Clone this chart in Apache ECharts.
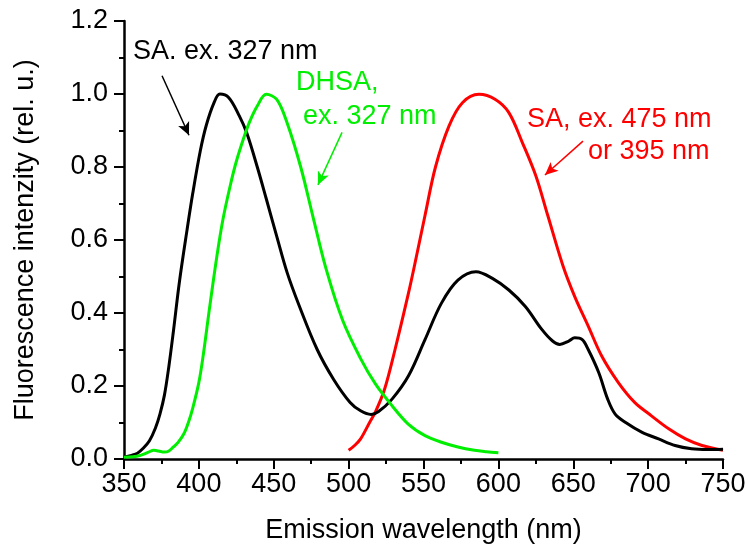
<!DOCTYPE html>
<html>
<head>
<meta charset="utf-8">
<script src="https://cdn.jsdelivr.net/npm/echarts@6/dist/echarts.min.js"></script>
<style>
  html, body { margin: 0; padding: 0; background: #fff; }
  #chart { width: 749px; height: 549px; }
</style>
</head>
<body>
<div id="chart"></div>
<script>
// SA excited at 327 nm
const saUvWavelength = [350, 355, 359, 363, 367, 371, 374, 377, 380, 383, 387, 392, 396, 401, 405, 410, 414, 420, 427, 432, 439, 445, 452, 459, 467, 479, 490, 501, 508, 515, 520, 529, 540, 551, 562, 573, 585, 596, 607, 618, 629, 636, 641, 647, 651, 656, 660, 667, 673, 678, 685, 696, 707, 718, 729, 740, 750];
const saUvIntensity  = [0.005, 0.010, 0.016, 0.030, 0.050, 0.085, 0.123, 0.175, 0.255, 0.35, 0.485, 0.625, 0.73, 0.845, 0.915, 0.975, 1.0, 0.99, 0.94, 0.893, 0.80, 0.713, 0.61, 0.51, 0.42, 0.30, 0.218, 0.155, 0.132, 0.122, 0.13, 0.164, 0.228, 0.327, 0.427, 0.49, 0.513, 0.495, 0.463, 0.418, 0.355, 0.324, 0.314, 0.323, 0.332, 0.327, 0.30, 0.237, 0.164, 0.123, 0.10, 0.073, 0.055, 0.037, 0.028, 0.026, 0.027];

// DHSA excited at 327 nm
const dhsaWavelength = [350, 356, 361, 366, 370, 373, 377, 380, 383, 386, 390, 393, 396, 400, 403, 407, 412, 416, 421, 425, 430, 434, 439, 445, 452, 459, 468, 476, 485, 496, 508, 518, 529, 540, 551, 562, 573, 584, 592, 600];
const dhsaIntensity  = [0.005, 0.006, 0.010, 0.018, 0.024, 0.022, 0.019, 0.022, 0.033, 0.045, 0.069, 0.10, 0.141, 0.21, 0.287, 0.41, 0.555, 0.655, 0.75, 0.815, 0.88, 0.925, 0.967, 0.999, 0.985, 0.92, 0.80, 0.667, 0.52, 0.38, 0.275, 0.205, 0.146, 0.095, 0.064, 0.046, 0.033, 0.024, 0.020, 0.017];

// SA excited at 475 nm or 395 nm
const saVisWavelength = [500, 504, 508, 514, 518, 524, 531, 540, 544, 551, 558, 567, 576, 587, 598, 607, 616, 625, 633, 643, 651, 660, 669, 680, 691, 702, 714, 725, 736, 750];
const saVisIntensity  = [0.024, 0.037, 0.055, 0.10, 0.13, 0.191, 0.30, 0.455, 0.53, 0.667, 0.80, 0.912, 0.976, 0.999, 0.985, 0.949, 0.867, 0.776, 0.667, 0.531, 0.445, 0.364, 0.282, 0.21, 0.155, 0.119, 0.082, 0.055, 0.037, 0.024];

// Axis ranges and ticks
const xTicks = [350, 400, 450, 500, 550, 600, 650, 700, 750];
const yTicks = [0.0, 0.2, 0.4, 0.6, 0.8, 1.0, 1.2];

// Annotation labels: [text, wavelength at left edge, intensity at baseline]
const blackLabels = [["SA. ex. 327 nm", 356.0, 1.088]];
const greenLabels = [["DHSA,", 464.9, 1.004], ["ex. 327 nm", 469.5, 0.912]];
const redLabels   = [["SA, ex. 475 nm", 619.1, 0.903], ["or 395 nm", 659.8, 0.814]];

// Arrows: [from, to] in data coordinates
const blackArrow = [[375.4, 1.050], [393.4, 0.887]];
const greenArrow = [[495.6, 0.895], [479.5, 0.751]];
const redArrow   = [[656.5, 0.871], [631.1, 0.778]];

const BLACK = '#000000';
const GREEN = '#00ee00';
const RED = '#ff0000';
const FONT = '"Liberation Sans", Arial, sans-serif';
const FS = 27;

function zip(xs, ys) { return xs.map((x, i) => [x, ys[i]]); }

function arrow(pts, color) {
  return {
    silent: true,
    symbol: ['none', 'arrow'],
    symbolSize: [9, 13],
    label: { show: false },
    lineStyle: { color: color, width: 1.5, type: 'solid' },
    data: [[{ coord: pts[0] }, { coord: pts[1] }]]
  };
}

function curve(name, data, color, arr) {
  return {
    name: name,
    type: 'line',
    data: data,
    smooth: 0.35,
    showSymbol: false,
    clip: false,
    lineStyle: { color: color, width: 3, join: 'round' },
    itemStyle: { color: color },
    markLine: arrow(arr, color),
    z: 3
  };
}

const chart = echarts.init(document.getElementById('chart'), null, { renderer: 'canvas' });

const axisCommon = {
  axisLine: { show: true, onZero: false, lineStyle: { color: BLACK, width: 2.5 } },
  axisTick: { show: true, inside: false, length: 10, lineStyle: { color: BLACK, width: 2 } },
  minorTick: { show: true, splitNumber: 2, length: 5, lineStyle: { color: BLACK, width: 2 } },
  splitLine: { show: false },
  minorSplitLine: { show: false },
  nameTextStyle: { color: BLACK, fontFamily: FONT, fontSize: FS }
};

chart.setOption({
  animation: false,
  backgroundColor: '#ffffff',
  grid: { left: 124, right: 26, top: 21, bottom: 87, containLabel: false },
  xAxis: Object.assign({}, axisCommon, {
    type: 'value',
    min: xTicks[0],
    max: xTicks[xTicks.length - 1],
    interval: xTicks[1] - xTicks[0],
    name: 'Emission wavelength (nm)',
    nameLocation: 'middle',
    nameGap: 58,
    axisLabel: { color: BLACK, fontFamily: FONT, fontSize: FS, margin: 12,
      formatter: v => String(Math.round(v)) }
  }),
  yAxis: Object.assign({}, axisCommon, {
    type: 'value',
    min: yTicks[0],
    max: yTicks[yTicks.length - 1],
    interval: yTicks[1] - yTicks[0],
    name: 'Fluorescence intenzity (rel. u.)',
    nameLocation: 'middle',
    nameGap: 85,
    axisLabel: { color: BLACK, fontFamily: FONT, fontSize: FS, margin: 16,
      formatter: v => v.toFixed(1) }
  }),
  series: [
    curve('SA, ex. 475 nm or 395 nm', zip(saVisWavelength, saVisIntensity), RED, redArrow),
    curve('SA, ex. 327 nm', zip(saUvWavelength, saUvIntensity), BLACK, blackArrow),
    curve('DHSA, ex. 327 nm', zip(dhsaWavelength, dhsaIntensity), GREEN, greenArrow)
  ]
});

// Place the text annotations at their data positions
function labelGraphics(list, color) {
  return list.map(([text, x, y]) => {
    const p = chart.convertToPixel({ gridIndex: 0 }, [x, y]);
    return {
      type: 'text',
      x: p[0],
      y: p[1] - 10,
      z: 10,
      silent: true,
      style: { text: text, fill: color, font: FS + 'px ' + FONT, textAlign: 'left', textVerticalAlign: 'middle' }
    };
  });
}

chart.setOption({
  graphic: [].concat(
    labelGraphics(blackLabels, BLACK),
    labelGraphics(greenLabels, GREEN),
    labelGraphics(redLabels, RED)
  )
});
</script>
</body>
</html>
